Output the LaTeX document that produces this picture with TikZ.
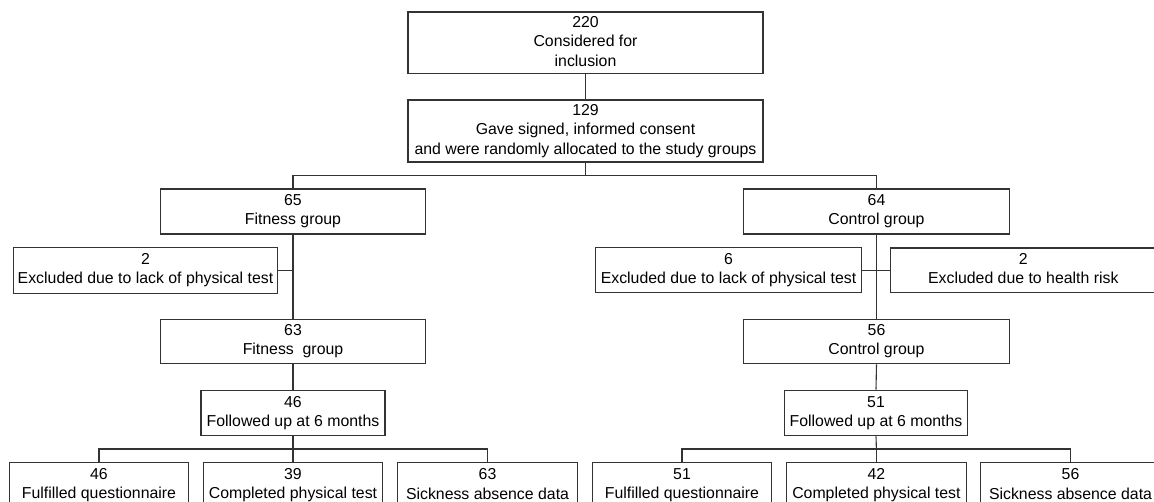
\documentclass[tikz,border=0pt]{standalone}
\usepackage{fontspec}
\setmainfont{Liberation Sans}
\newcommand{\topstrut}{\rule{0pt}{16.44pt}}
\newcommand{\botstrut}{\rule[-2.76pt]{0pt}{2.76pt}}
\begin{document}
\begin{tikzpicture}[x=1pt,y=-1pt,
  box/.style={draw=black!80, line width=1.1pt, rectangle, inner sep=0pt, align=center,
    font=\fontsize{15.85}{19.2}\selectfont, text=black,
    execute at begin node=\topstrut, execute at end node=\botstrut},
  link/.style={draw=black!80, line width=1.1pt}]
\clip (0,0) rectangle (1154,501);
\fill[white] (0,0) rectangle (1154,501);
% nodes
\node[box, minimum width=355pt, minimum height=61.5pt] (n220) at (585.5,42.75) {220\\Considered for\\inclusion};
\node[box, minimum width=355pt, minimum height=62pt] (n129) at (585.5,131) {129\\Gave signed, informed consent\\and were randomly allocated to the study groups};
\node[box, minimum width=265pt, minimum height=45pt] (f65) at (293,211.5) {65\\Fitness group};
\node[box, minimum width=266pt, minimum height=45pt] (c64) at (876.5,211.5) {64\\Control group};
\node[box, minimum width=264.4pt, minimum height=45.5pt] (ex2f) at (145.5,270.5) {2\\Excluded due to lack of physical test};
\node[box, minimum width=265.6pt, minimum height=45pt] (ex6c) at (728.5,270.2) {6\\Excluded due to lack of physical test};
\node[box, minimum width=265pt, minimum height=44.5pt] (ex2c) at (1023.3,270.2) {2\\Excluded due to health risk};
\node[box, minimum width=265pt, minimum height=44.7pt] (f63) at (293,341.4) {63\\Fitness\ \ group};
\node[box, minimum width=266pt, minimum height=44.7pt] (c56) at (876.5,341.4) {56\\Control group};
\node[box, minimum width=184pt, minimum height=45.7pt] (f46) at (293,412.9) {46\\Followed up at 6 months};
\node[box, minimum width=183pt, minimum height=45.7pt] (c51) at (876,412.9) {51\\Followed up at 6 months};
\node[box, minimum width=179.4pt, minimum height=46pt] (b1) at (99,485.3) {46\\Fulfilled questionnaire};
\node[box, minimum width=179.4pt, minimum height=46pt] (b2) at (293,485.3) {39\\Completed physical test};
\node[box, minimum width=179.6pt, minimum height=46pt] (b3) at (487.5,485.3) {63\\Sickness absence data};
\node[box, minimum width=179.4pt, minimum height=46pt] (b4) at (682,485.3) {51\\Fulfilled questionnaire};
\node[box, minimum width=179.3pt, minimum height=46pt] (b5) at (876.4,485.3) {42\\Completed physical test};
\node[box, minimum width=179.4pt, minimum height=46pt] (b6) at (1070.5,485.3) {56\\Sickness absence data};
% junctions
\coordinate (s1) at (585.5,175.7);
\coordinate (sf) at (293,449);
\coordinate (sc) at (876.4,449);
% connectors
\draw[link] (n220.south) -- (n129.north);
\draw[link] (n129.south) -- (s1);
\draw[link] (f65.north) |- (s1) -| (c64.north);
\draw[link] (f65.south) -- (f63.north);
\draw[link] (ex2f.east) -- (ex2f.east -| f65.south);
\draw[link] (c64.south) -- (c56.north);
\draw[link] (ex6c.east) -- (ex2c.west);
\draw[link] (f63.south) -- (f46.north);
\draw[link] (c56.south) -- (c51.north);
\draw[link] (f46.south) -- (sf);
\draw[link] (b1.north) |- (sf) -| (b3.north);
\draw[link] (sf) -- (b2.north);
\draw[link] (c51.south) -- (sc);
\draw[link] (b4.north) |- (sc) -| (b6.north);
\draw[link] (sc) -- (b5.north);
\end{tikzpicture}
\end{document}
